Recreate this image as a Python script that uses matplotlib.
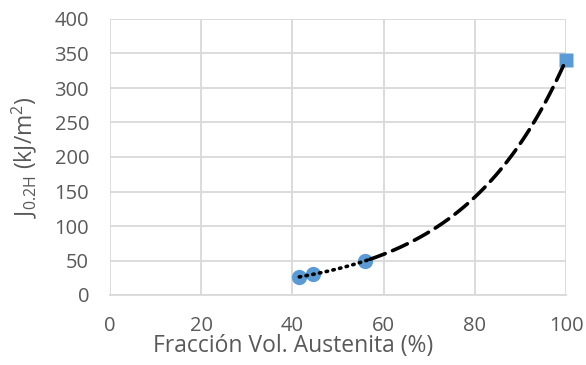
import numpy as np
import matplotlib
matplotlib.use('Agg')
import matplotlib.pyplot as plt

# measured points (circles) and the 100% austenite point (square)
frac_circ = [41.5, 44.5, 56.0]
j_circ = [26, 30, 50]
frac_sq = [100.0]
j_sq = [340]

xticks = [0, 20, 40, 60, 80, 100]
yticks = [0, 50, 100, 150, 200, 250, 300, 350, 400]

blue = '#5B9BD5'
grid_col = '#D9D9D9'
txt_col = '#595959'

plt.rcParams['font.family'] = ['Open Sans', 'DejaVu Sans']
plt.rcParams['mathtext.default'] = 'regular'

fig = plt.figure(figsize=(5.86, 3.65), dpi=100)
ax = fig.add_axes([110/586, 1 - 295/365, 456/586, 276/365])

# exponential trend line fitted on all points
xs = np.array(frac_circ + frac_sq)
ys = np.array(j_circ + j_sq)
b, lna = np.polyfit(xs, np.log(ys), 1)
x1 = np.linspace(41.5, 57, 40)
x2 = np.linspace(57, 100, 120)
ax.plot(x1, np.exp(lna + b*x1), color='black', lw=2.6, ls=(0, (0.4, 1.5)),
        dash_capstyle='round', zorder=4)
ax.plot(x2, np.exp(lna + b*x2), color='black', lw=2.6, ls=(0, (4.5, 2.2)),
        dash_capstyle='round', zorder=4)

ax.plot(frac_circ, j_circ, 'o', color=blue, ms=11, mec='none', zorder=3, clip_on=False)
ax.plot(frac_sq, j_sq, 's', color=blue, ms=10, mec='none', zorder=3, clip_on=False)

ax.set_xlim(0, 100)
ax.set_ylim(0, 400)
ax.set_xticks(xticks)
ax.set_yticks(yticks)
ax.grid(True, color=grid_col, lw=1.3)
ax.set_axisbelow(True)
for s in ['top', 'right', 'left']:
    ax.spines[s].set_visible(False)
ax.spines['bottom'].set_color(grid_col)
ax.spines['bottom'].set_linewidth(1.3)
ax.tick_params(length=0, labelsize=14.5, colors=txt_col, pad=15)
ax.tick_params(axis='y', pad=15)

fig.text(0.5, 1 - 346/365, 'Fracción Vol. Austenita (%)', ha='center', va='center',
         fontsize=16.5, color=txt_col)
fig.text(24/586, 1 - 157/365, 'J$_{0.2H}$ (kJ/m$^2$)', ha='center', va='center',
         rotation=90, fontsize=16.5, color=txt_col)

fig.savefig('out.png', dpi=100)
